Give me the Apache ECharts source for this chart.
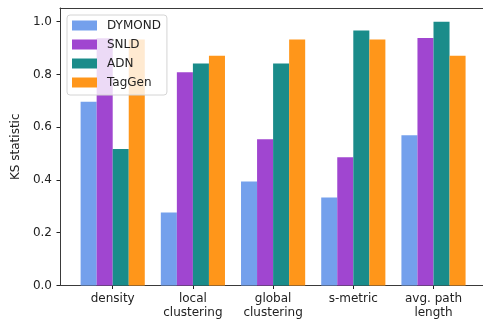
<!DOCTYPE html>
<html>
<head>
<meta charset="utf-8">
<script src="https://cdn.jsdelivr.net/npm/echarts@6/dist/echarts.min.js"></script>
<style>
  html, body { margin: 0; padding: 0; background: #fff; }
  #chart { width: 483px; height: 324px; }
</style>
</head>
<body>
<div id="chart"></div>
<script>
// Metric categories along the x axis
const categories = ['density', 'local\nclustering', 'global\nclustering', 's-metric', 'avg. path\nlength'];

// KS statistic per generator
const dymond = [0.697, 0.277, 0.394, 0.334, 0.570];
const snld   = [0.937, 0.808, 0.554, 0.486, 0.938];
const adn    = [0.517, 0.842, 0.842, 0.967, 1.000];
const taggen = [0.933, 0.871, 0.933, 0.933, 0.871];

const seriesNames = ['DYMOND', 'SNLD', 'ADN', 'TagGen'];
const seriesValues = [dymond, snld, adn, taggen];
const seriesColors = ['#74a0ec', '#a046d0', '#1a8c8a', '#ff961a'];

const yTicks = [0.0, 0.2, 0.4, 0.6, 0.8, 1.0];
const yMax = 1.052;

const font = 'DejaVu Sans';
const spine = { show: true, lineStyle: { color: '#3a3a3a', width: 1 } };
const chart = echarts.init(document.getElementById('chart'), null, { renderer: 'canvas' });

chart.setOption({
  animation: false,
  textStyle: { fontFamily: font },
  grid: [
    // frame carrying the left, bottom and top spines and the y ticks;
    // its right edge lies past the canvas
    { left: 60, right: -40, top: 8, bottom: 38.5, outerBoundsMode: 'none', containLabel: false },
    // bar area: category bands
    { left: 72.6, right: 9.4, top: 8, bottom: 38.5, outerBoundsMode: 'none', containLabel: false }
  ],
  xAxis: [
    { gridIndex: 0, type: 'value', min: 0, max: 1, position: 'bottom', axisLine: spine,
      axisTick: { show: false }, axisLabel: { show: false }, splitLine: { show: false } },
    { gridIndex: 0, type: 'value', min: 0, max: 1, position: 'top', axisLine: spine,
      axisTick: { show: false }, axisLabel: { show: false }, splitLine: { show: false } },
    {
      gridIndex: 1, type: 'category', data: categories,
      axisLine: { show: false },
      axisTick: { show: true, alignWithLabel: true, length: 3.5, lineStyle: { color: '#222' } },
      axisLabel: { color: '#222', fontSize: 12, fontFamily: font, margin: 6, lineHeight: 14, interval: 0 }
    }
  ],
  yAxis: [
    {
      gridIndex: 0, type: 'value', min: 0, max: yMax, interval: 0.2,
      name: 'KS statistic', nameLocation: 'middle', nameGap: 36,
      nameTextStyle: { color: '#222', fontSize: 12, fontFamily: font },
      axisLine: spine,
      axisTick: { show: true, length: 3.5, lineStyle: { color: '#222' } },
      splitLine: { show: false },
      axisLabel: {
        color: '#222', fontSize: 12, fontFamily: font, margin: 8,
        showMaxLabel: false,
        formatter: v => {
          const t = yTicks.find(x => Math.abs(x - v) < 1e-9);
          return t === undefined ? '' : t.toFixed(1);
        }
      }
    },
    { gridIndex: 1, type: 'value', min: 0, max: yMax, show: false }
  ],
  legend: {
    orient: 'vertical', left: 67, top: 15,
    padding: [3, 6, 5, 5], itemGap: 4,
    itemWidth: 25, itemHeight: 10,
    backgroundColor: 'rgba(255,255,255,0.8)',
    borderColor: '#d4d4d4', borderWidth: 1, borderRadius: 3,
    textStyle: { color: '#222', fontSize: 12, fontFamily: font, lineHeight: 15, padding: [0, 0, 0, 5] },
    data: seriesNames.map(n => ({ name: n, icon: 'rect' }))
  },
  series: seriesNames.map((name, i) => ({
    name, type: 'bar', xAxisIndex: 2, yAxisIndex: 1,
    data: seriesValues[i],
    barGap: '0%', barCategoryGap: '20%',
    itemStyle: { color: seriesColors[i] }
  }))
});
</script>
</body>
</html>
